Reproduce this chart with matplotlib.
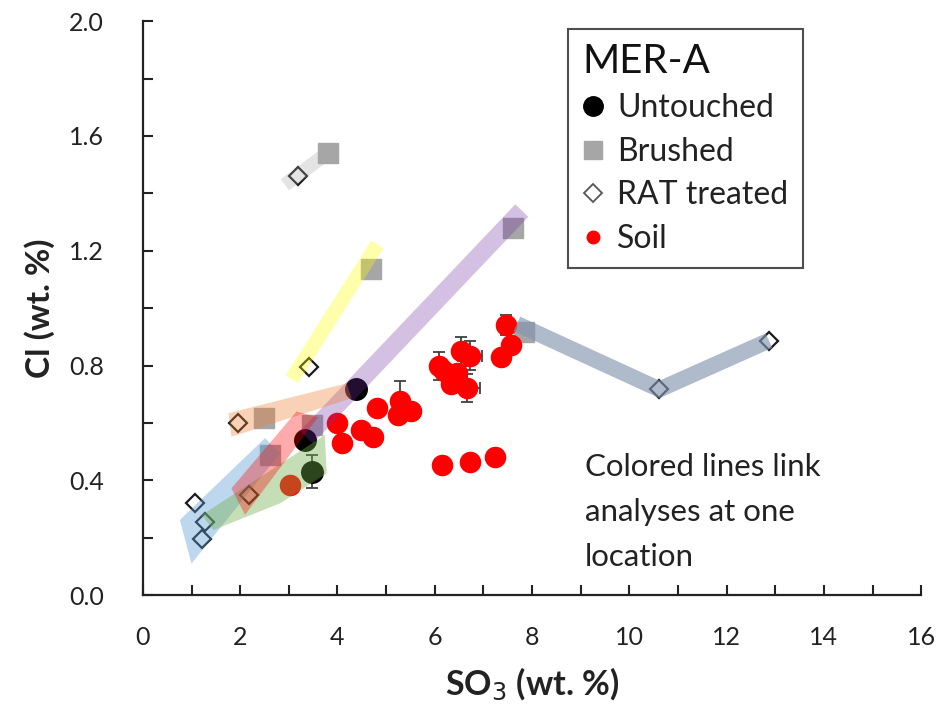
import numpy as np
import matplotlib
matplotlib.use("Agg")
import matplotlib.pyplot as plt
from matplotlib.lines import Line2D

plt.rcParams['font.family'] = ['Lato', 'DejaVu Sans']

# --- analyses (SO3 wt.%, Cl wt.%) ---
untouched_so3 = [4.38, 3.33, 3.47]
untouched_cl = [0.717, 0.541, 0.430]
untouched_err = [0.0, 0.0, 0.058]

brushed_so3 = [3.80, 4.69, 7.61, 7.83, 2.50, 3.47, 2.61]
brushed_cl = [1.540, 1.137, 1.279, 0.918, 0.618, 0.593, 0.488]

rat_so3 = [3.19, 3.42, 10.62, 12.87, 1.96, 2.18, 1.07, 1.28, 1.22]
rat_cl = [1.460, 0.796, 0.717, 0.887, 0.599, 0.349, 0.320, 0.256, 0.194]

soil_so3 = [3.02, 3.99, 4.09, 4.48, 4.74, 4.82, 5.29, 5.25, 5.51,
            6.08, 6.20, 6.33, 6.45, 6.54, 6.73, 6.66,
            6.14, 6.73, 7.23, 7.46, 7.56, 7.37]
soil_cl = [0.384, 0.601, 0.529, 0.576, 0.552, 0.651, 0.676, 0.628, 0.641,
           0.799, 0.780, 0.735, 0.773, 0.850, 0.834, 0.721,
           0.452, 0.463, 0.482, 0.940, 0.873, 0.831]
soil_yerr = [0, 0, 0, 0, 0, 0, 0.07, 0, 0,
             0.05, 0, 0, 0, 0.05, 0.05, 0.048,
             0, 0, 0, 0.035, 0, 0]
soil_xerr = [0, 0, 0, 0, 0, 0, 0, 0, 0,
             0, 0, 0, 0, 0, 0.25, 0.27,
             0, 0, 0, 0, 0, 0]

# --- links between analyses at one location ---
gray_link = ([2.92, 3.75], [1.430, 1.535])
yellow_link = ([3.06, 4.82], [0.752, 1.222])
purple_link = ([3.36, 7.79], [0.550, 1.340])
slate_link = ([7.69, 10.62, 12.87], [0.945, 0.717, 0.887])

peach_area = ([1.76, 4.19, 4.29, 1.82], [0.634, 0.738, 0.686, 0.552])
blue_area = ([0.76, 2.51, 2.82, 1.00], [0.262, 0.547, 0.494, 0.110])
green_area = ([1.21, 3.74, 3.78, 2.82, 1.45], [0.279, 0.558, 0.424, 0.320, 0.227])
pink_area = ([1.82, 3.16, 3.60, 2.10], [0.372, 0.640, 0.620, 0.280])

fig = plt.figure(figsize=(9.4, 7.06), dpi=100)
ax = fig.add_axes([0.152, 0.157, 0.828, 0.813])

# markers first, translucent links go on top
ax.plot(brushed_so3, brushed_cl, 's', color='#a6a6a6', markersize=14.5,
        linestyle='none', zorder=2)
ax.plot(rat_so3, rat_cl, 'D', markerfacecolor='white', markeredgecolor='#1a1a1a',
        markeredgewidth=1.6, markersize=9.5, linestyle='none', zorder=2)
ax.errorbar(soil_so3, soil_cl, yerr=soil_yerr, xerr=soil_xerr, fmt='o',
            color='#ff0000', markersize=14.5, ecolor='#404040', elinewidth=1.3,
            capsize=4, capthick=1.3, zorder=2)
ax.errorbar(untouched_so3, untouched_cl, yerr=untouched_err, fmt='o',
            color='black', markersize=15.5, ecolor='#404040', elinewidth=1.3,
            capsize=4, capthick=1.3, zorder=2)

ax.plot(*gray_link, color='#a6a6a6', alpha=0.3, lw=10, solid_capstyle='butt', zorder=3)
ax.plot(*yellow_link, color='#ffff00', alpha=0.33, lw=10.5, solid_capstyle='butt', zorder=3)
ax.plot(*purple_link, color='#7030a0', alpha=0.3, lw=13, solid_capstyle='butt', zorder=3)
ax.plot(*slate_link, color='#8496b0', alpha=0.65, lw=11.5, solid_capstyle='butt',
        solid_joinstyle='miter', zorder=3)
ax.fill(*peach_area, color='#ed7d31', alpha=0.35, lw=0, zorder=3)
ax.fill(*blue_area, color='#5b9bd5', alpha=0.4, lw=0, zorder=3)
ax.fill(*green_area, color='#70ad47', alpha=0.4, lw=0, zorder=3)
ax.fill(*pink_area, color='#ff0000', alpha=0.33, lw=0, zorder=3)

ax.set_xlim(0, 16)
ax.set_ylim(0, 2.0)
ax.set_xticks(np.arange(0, 17, 2))
ax.set_xticks(np.arange(0, 17, 1), minor=True)
ax.set_yticks(np.arange(0, 2.01, 0.4))
ax.set_yticks(np.arange(0, 2.01, 0.2), minor=True)
ax.set_yticklabels([f'{v:.1f}' for v in np.arange(0, 2.01, 0.4)])
ax.tick_params(which='both', direction='in', width=1.5, color='#222222', length=7)
ax.tick_params(axis='x', which='major', labelsize=18, pad=22, labelcolor='#222222')
ax.tick_params(axis='y', which='major', labelsize=18, pad=28, labelcolor='#222222')
for side in ['top', 'right']:
    ax.spines[side].set_visible(False)
for side in ['left', 'bottom']:
    ax.spines[side].set_linewidth(1.6)
    ax.spines[side].set_color('#222222')

ax.set_xlabel('SO$_3$ (wt. %)', fontsize=24.5, fontweight='bold', labelpad=12, color='#222222')
ax.set_ylabel('Cl (wt. %)', fontsize=24, fontweight='bold', labelpad=10, color='#222222')

handles = [
    Line2D([], [], marker='o', linestyle='none', color='black', markersize=14),
    Line2D([], [], marker='s', linestyle='none', color='#a6a6a6', markersize=13),
    Line2D([], [], marker='D', linestyle='none', markerfacecolor='white',
           markeredgecolor='#555555', markeredgewidth=1.3, markersize=9),
    Line2D([], [], marker='o', linestyle='none', color='#ff0000', markersize=9),
]
leg = ax.legend(handles, ['Untouched', 'Brushed', 'RAT treated', 'Soil'],
                title='MER-A', loc='upper left', bbox_to_anchor=(0.546, 0.987),
                fontsize=23, title_fontsize=29, alignment='left',
                frameon=True, fancybox=False, edgecolor='#222222',
                handlelength=0.7, handletextpad=0.4, labelspacing=0.42,
                borderpad=0.45, borderaxespad=0)
leg.get_frame().set_linewidth(1.5)
leg.get_title().set_color('#111111')
for t in leg.get_texts():
    t.set_color('#222222')

ax.text(0.568, 0.248, 'Colored lines link\nanalyses at one\nlocation',
        transform=ax.transAxes, fontsize=22.5, color='#222222',
        va='top', ha='left', linespacing=1.75)

fig.savefig('out.png', dpi=100)
